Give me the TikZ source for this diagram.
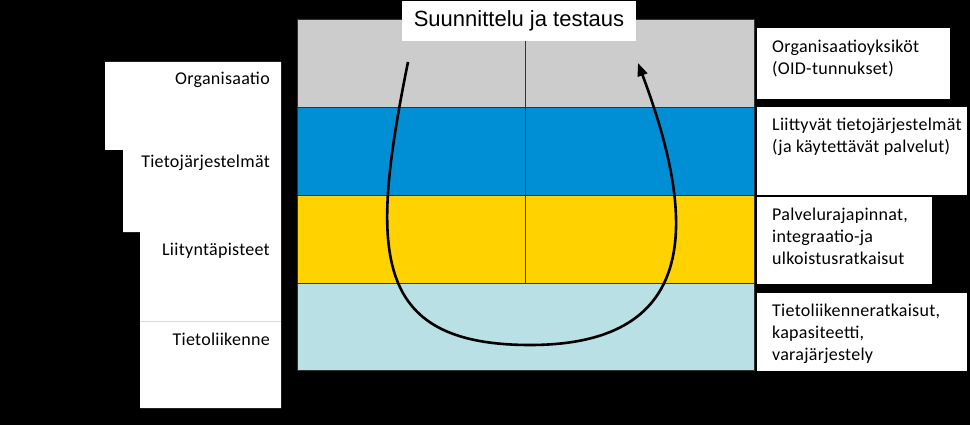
\documentclass[tikz,border=0pt]{standalone}
\usepackage{fontspec}
\setmainfont[LetterSpace=1.5]{Carlito}
\newfontfamily\arialfont{Liberation Sans}
\usetikzlibrary{arrows.meta}

\definecolor{kerrosharmaa}{RGB}{204,204,204}
\definecolor{kerrossininen}{RGB}{0,143,213}
\definecolor{kerroskeltainen}{RGB}{255,210,0}
\definecolor{kerrosvaalea}{RGB}{185,224,228}

\tikzset{
  band/.style={draw=black!80, line width=0.6pt, minimum width=457pt, anchor=north west, inner sep=0pt},
  kuvaus/.style={fill=white, anchor=north west, inner sep=0pt},
  teksti/.style={font=\fontsize{18}{22}\selectfont, align=left, anchor=west, inner sep=0pt},
  taso/.style={font=\fontsize{18}{22}\selectfont, anchor=east, inner sep=0pt}
}

\begin{document}
\begin{tikzpicture}[x=1pt, y=-1pt]
            \fill[black] (0,0) rectangle (970,425);
            \useasboundingbox (0,0) rectangle (970,425);

            % vasen porrastettu alue
            \fill[white] (105,62) -- (281,62) -- (281,408) -- (140,408) -- (140,232)
                -- (123,232) -- (123,150) -- (105,150) -- cycle;
            \draw[black!15, line width=0.6pt] (140,321) -- (281,321);

            \node[taso] (org)  at (270,80)  {Organisaatio};
            \node[taso] (tj)   at (270,163) {Tietojärjestelmät};
            \node[taso] (lp)   at (270,251) {Liityntäpisteet};
            \node[taso] (tl)   at (270,339) {Tietoliikenne};

            % kerrokset
            \node[band, fill=kerrosharmaa,    minimum height=88pt] (harmaa)    at (297,19)  {};
            \node[band, fill=kerrossininen,   minimum height=88pt] (sininen)   at (297,107) {};
            \node[band, fill=kerroskeltainen, minimum height=88pt] (keltainen) at (297,195) {};
            \node[band, fill=kerrosvaalea,    minimum height=87pt] (vaalea)    at (297,283) {};

            \node[fill=white, minimum width=234pt, minimum height=40pt, inner sep=0pt,
                  font=\arialfont\fontsize{22}{24}\selectfont] (otsikko) at (519,21) {Suunnittelu ja testaus};
            \draw[black!80, line width=0.8pt] (otsikko.south -| 525,0) -- (keltainen.south -| 525,0);

            % oikeat laatikot
            \node[kuvaus, minimum width=193pt, minimum height=71pt] (k1) at (757,28)  {};
            \node[kuvaus, minimum width=210pt, minimum height=88pt] (k2) at (757,107) {};
            \node[kuvaus, minimum width=175pt, minimum height=87pt] (k3) at (757,197) {};
            \node[kuvaus, minimum width=210pt, minimum height=78pt] (k4) at (757,293) {};

            \node[teksti] (t1) at (772,59)  {Organisaatioyksiköt\\(OID-tunnukset)};
            \node[teksti] (t2) at (772,137) {Liittyvät tietojärjestelmät\\(ja käytettävät palvelut)};
            \node[teksti] (t3) at (772,236) {Palvelurajapinnat,\\integraatio-ja\\ulkoistusratkaisut};
            \node[teksti] (t4) at (772,334) {Tietoliikenneratkaisut,\\kapasiteetti,\\varajärjestely};

            % kierto
            \coordinate (alku) at (408,62);
            \coordinate (pohja) at (530,345);
            \coordinate (loppu) at (638,63);
            \draw[line width=2.6pt, -{Triangle[length=13pt, width=10pt]}]
                (alku) .. controls (370,250) and (370,345) .. (pohja)
                .. controls (705,345) and (695,215) .. (loppu);
        \end{tikzpicture}
\end{document}
